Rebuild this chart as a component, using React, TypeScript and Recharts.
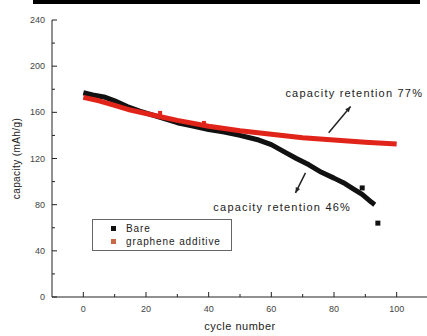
import React from "react";
import {
  ComposedChart,
  Line,
  Scatter,
  XAxis,
  YAxis,
  ReferenceLine,
  ReferenceDot,
} from "recharts";

const bareCycles = [0, 3, 7, 10, 14, 18, 24, 30, 35, 40, 45, 50, 56, 60, 64, 68, 72, 76, 80, 83, 86, 89, 92, 93];
const bareCapacity = [177, 175, 173, 170, 165, 161, 156, 151, 148, 145, 143, 140, 136, 132, 126, 120, 114.5, 108, 103, 99, 94, 89, 82, 80];
const grapheneCycles = [0, 5, 10, 15, 20, 25, 30, 40, 50, 60, 70, 80, 90, 100];
const grapheneCapacity = [173, 170, 166, 162, 159, 156, 153, 148, 144, 141, 138, 136, 134, 132.5];

const bareMarkCycles = [89, 94];
const bareMarkCapacity = [94.5, 64];
const grapheneMarkCycles = [24.5, 38.5];
const grapheneMarkCapacity = [159.5, 150.8];

const xTicks = [0, 10, 20, 30, 40, 50, 60, 70, 80, 90, 100];
const yTicks = [0, 20, 40, 60, 80, 100, 120, 140, 160, 180, 200, 220, 240];

const bareData = bareCycles.map((c, i) => ({ cycle: c, cap: bareCapacity[i] }));
const grapheneData = grapheneCycles.map((c, i) => ({ cycle: c, cap: grapheneCapacity[i] }));
const bareMarks = bareMarkCycles.map((c, i) => ({ cycle: c, cap: bareMarkCapacity[i] }));
const grapheneMarks = grapheneMarkCycles.map((c, i) => ({ cycle: c, cap: grapheneMarkCapacity[i] }));

const FONT = "'Liberation Sans', Arial, sans-serif";
const RED = "#e0241a";
const BLACK = "#111";

const XTick = (props: any) => {
  const { x, y, payload } = props;
  const major = payload.value % 20 === 0;
  return (
    <g>
      <line x1={x} x2={x} y1={y - 8} y2={y - (major ? 13 : 11)} stroke="#222" />
      {major && (
        <text x={x} y={y + 7} textAnchor="middle" fontSize={9} fill="#444" fontFamily={FONT}>
          {payload.value}
        </text>
      )}
    </g>
  );
};

const YTick = (props: any) => {
  const { x, y, payload } = props;
  const major = payload.value % 40 === 0;
  return (
    <g>
      <line x1={x + 7} x2={x + (major ? 12 : 10)} y1={y} y2={y} stroke="#222" />
      {major && (
        <text x={x} y={y + 3} textAnchor="end" fontSize={9} fill="#444" fontFamily={FONT}>
          {payload.value}
        </text>
      )}
    </g>
  );
};

const Arrow = (props: any) => {
  const { x1, y1, x2, y2 } = props;
  const a = Math.atan2(y2 - y1, x2 - x1);
  const s = 6;
  const p1 = [x2 - s * Math.cos(a - 0.4), y2 - s * Math.sin(a - 0.4)];
  const p2 = [x2 - s * Math.cos(a + 0.4), y2 - s * Math.sin(a + 0.4)];
  return (
    <g>
      <line x1={x1} y1={y1} x2={x2} y2={y2} stroke="#222" strokeWidth={1.5} />
      <polygon points={`${x2},${y2} ${p1[0]},${p1[1]} ${p2[0]},${p2[1]}`} fill="#222" />
    </g>
  );
};

const note = (text: string) => (props: any) => (
  <text x={props.cx} y={props.cy + 4} fontSize={11} letterSpacing={1.2} fill="#222" fontFamily={FONT}>
    {text}
  </text>
);

const square = (color: string, size: number) => (props: any) => (
  <rect x={props.cx - size / 2} y={props.cy - size / 2} width={size} height={size} fill={color} />
);

const legendItems = [
  { name: "Bare", color: BLACK },
  { name: "graphene additive", color: "#c86a48" },
];

const LegendBox = () => (
  <div
    style={{
      position: "absolute",
      left: 92,
      top: 219,
      border: "1px solid #666",
      width: 140,
      height: 32,
      boxSizing: "border-box",
      fontFamily: FONT,
      fontSize: 10,
      letterSpacing: 0.9,
      color: "#222",
      padding: "3px 0 0 18px",
      lineHeight: "12.5px",
      background: "#fff",
    }}
  >
    {legendItems.map((it) => (
      <div key={it.name}>
        <span style={{ display: "inline-block", width: 5, height: 5, background: it.color, marginRight: 10, verticalAlign: 1 }} />
        {it.name}
      </div>
    ))}
  </div>
);

export default function App() {
  return (
    <div style={{ position: "absolute", left: 0, top: 0, width: 427, height: 336, overflow: "hidden", background: "#fff" }}>
      <div style={{ position: "absolute", left: 33, top: 0, width: 387, height: 4, background: "#000" }} />
      <ComposedChart width={440} height={336} margin={{ top: 20, right: 12, bottom: 0, left: 0 }}>
        <XAxis
          dataKey="cycle"
          type="number"
          domain={[-10, 110]}
          ticks={xTicks}
          interval={0}
          tickSize={0}
          tickMargin={8}
          tick={XTick}
          height={39}
          axisLine={{ stroke: "#222" }}
          allowDataOverflow
          label={{ value: "cycle number", position: "insideBottom", offset: 6, fontSize: 11, letterSpacing: 0.5, fill: "#222", fontFamily: FONT }}
        />
        <XAxis xAxisId="top" orientation="top" type="number" domain={[-10, 110]} height={0} tick={false} tickLine={false} axisLine={{ stroke: "#444" }} />
        <YAxis
          type="number"
          domain={[0, 240]}
          ticks={yTicks}
          interval={0}
          tickSize={0}
          tickMargin={7}
          tick={YTick}
          width={52}
          axisLine={{ stroke: "#222" }}
          label={{ value: "capacity (mAh/g)", angle: -90, position: "insideLeft", offset: 16, fontSize: 10, letterSpacing: 0.4, fill: "#222", fontFamily: FONT, style: { textAnchor: "middle" } }}
        />
        <Line data={bareData} dataKey="cap" stroke={BLACK} strokeWidth={5} strokeLinejoin="round" dot={false} isAnimationActive={false} />
        <Line data={grapheneData} dataKey="cap" stroke={RED} strokeWidth={5} strokeLinejoin="round" dot={false} isAnimationActive={false} />
        <Scatter data={grapheneMarks} dataKey="cap" shape={square(RED, 4)} isAnimationActive={false} />
        <Scatter data={bareMarks} dataKey="cap" shape={square(BLACK, 5)} isAnimationActive={false} />
        <ReferenceLine segment={[{ x: 78.3, y: 142.3 }, { x: 85.3, y: 165 }]} shape={Arrow} />
        <ReferenceLine segment={[{ x: 70.9, y: 107.6 }, { x: 67.7, y: 90.2 }]} shape={Arrow} />
        <ReferenceDot x={64.5} y={177} r={0} shape={note("capacity retention 77%")} />
        <ReferenceDot x={41.5} y={78} r={0} shape={note("capacity retention 46%")} />
      </ComposedChart>
      <LegendBox />
    </div>
  );
}
